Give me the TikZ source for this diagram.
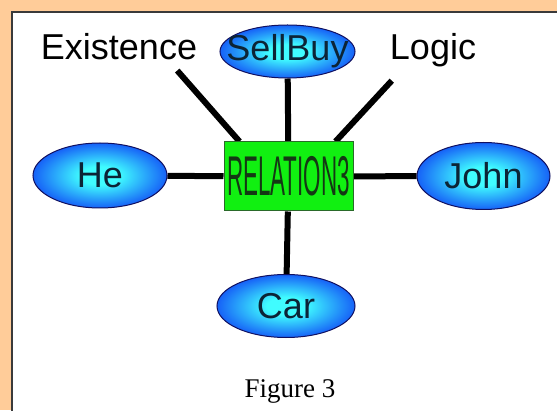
\documentclass[tikz,border=0pt]{standalone}
\usepackage{fontspec}
\setsansfont{Liberation Sans}
\newfontfamily\figfont{Liberation Serif}
\usetikzlibrary{shapes.geometric, backgrounds}
\definecolor{pagebg}{HTML}{FFCC99}
\definecolor{framegray}{HTML}{3A3A3A}
\definecolor{eggin}{HTML}{40FCFF}
\definecolor{eggout}{HTML}{0626F4}
\definecolor{eggline}{HTML}{101060}
\definecolor{eggtext}{HTML}{0C2436}
\definecolor{relgreen}{HTML}{11F011}
\definecolor{relline}{HTML}{2A6A2A}
\definecolor{reltext}{HTML}{143814}
\pgfdeclareradialshading{eggshade}{\pgfpoint{0bp}{0bp}}{color(0bp)=(eggin); color(7bp)=(eggin); color(32bp)=(eggout); color(50bp)=(eggout)}
\newcommand{\ctext}[1]{\makebox[0pt]{#1}}

\begin{document}
\begin{tikzpicture}[
    x=1pt, y=1pt,
    every node/.style={font=\sffamily\fontsize{36}{40}\selectfont, inner sep=0pt},
    egg/.style={ellipse, draw=eggline, line width=1pt, shading=eggshade, text=eggtext,
                minimum width=134pt, minimum height=65pt},
    relbox/.style={rectangle, draw=relline, line width=1pt, fill=relgreen, text=reltext,
                minimum width=129pt, minimum height=69pt},
    link/.style={line width=6pt, black}
]
    \clip (0,0) rectangle (557,410);

    % ===== centre and ellipses =====
    \node[relbox] (rl) at (288.5, 233.5)
        {\ctext{\scalebox{0.4}[1]{\fontsize{56}{60}\selectfont RELATION3}}};
    \node[egg, minimum width=135pt, minimum height=53pt] (sb) at (287.5, 358.5) {\ctext{SellBuy}};
    \node[egg] (he)  at (100, 234.5) {\ctext{He}};
    \node[egg, minimum width=133pt, minimum height=67pt] (jn) at (483.5, 234) {\ctext{John}};
    \node[egg, minimum width=138pt, minimum height=63pt] (car) at (286, 104) {\ctext{Car}};

    % ===== plain labels =====
    \node[anchor=base] (ex) at (119, 350) {Existence};
    \node[anchor=base] (lg) at (433, 350) {Logic};
    \node[anchor=base, font=\figfont\fontsize{27}{30}\selectfont] (fig) at (290, 13) {Figure 3};

    \begin{scope}[on background layer]
        \fill[pagebg] (0,0) rectangle (557,410);
        \draw[framegray, line width=1.5pt, fill=white] (12,-10) rectangle (580,398);

        % ===== links =====
        \draw[link] ([xshift=16pt]rl.north west) -- ([xshift=-20pt, yshift=-10pt]ex.south east);
        \draw[link] ([xshift=-18pt]rl.north east) -- ([xshift=2pt, yshift=-13pt]lg.south west);
        \draw[link] (sb) -- (rl);
        \draw[link] (he) -- (rl);
        \draw[link] (rl) -- (jn);
        \draw[link] (rl) -- (car);
    \end{scope}
\end{tikzpicture}
\end{document}
